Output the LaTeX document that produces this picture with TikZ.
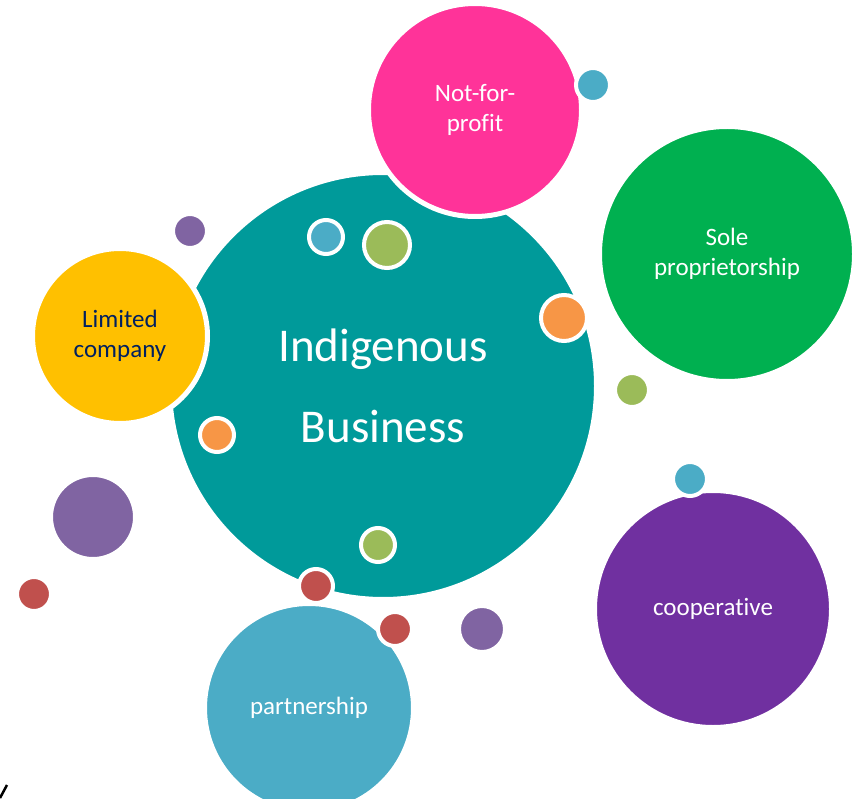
\documentclass[tikz,border=0pt]{standalone}
\usepackage{fontspec}
\setmainfont{Carlito}[Ligatures=NoCommon]
\usetikzlibrary{positioning}

\definecolor{bizteal}{HTML}{009A9A}
\definecolor{bizpink}{HTML}{FF3399}
\definecolor{bizgreen}{HTML}{00B050}
\definecolor{bizyellow}{HTML}{FFC000}
\definecolor{bizpurple}{HTML}{7030A0}
\definecolor{bizblue}{HTML}{4BACC6}
\definecolor{bizlime}{HTML}{9BBB59}
\definecolor{bizorange}{HTML}{F79646}
\definecolor{bizred}{HTML}{C0504D}
\definecolor{bizviolet}{HTML}{8064A2}
\definecolor{biznavy}{HTML}{002060}

\begin{document}
\begin{tikzpicture}[x=1pt, y=-1pt,
    bubble/.style={circle, fill=#1, draw=white, line width=5pt, inner sep=0pt, text=white, align=center, font=\fontsize{25}{30}\selectfont},
    dot/.style={circle, fill=#1, draw=white, line width=4pt, inner sep=0pt}
]
\useasboundingbox (0,0) rectangle (859,799);

% Draw main bubble
\node[bubble=bizteal, minimum size=427pt, font=\fontsize{47}{81}\selectfont] (indigenous) at (383,386) {\raisebox{-8pt}{Indigenous}\\\raisebox{-8pt}{Business}};

% Draw business forms
\node[bubble=bizpink, minimum size=213pt] (notforprofit) at (475,110) {\raisebox{-3pt}{Not-for-}\\\raisebox{-3pt}{profit}};
\node[bubble=bizgreen, minimum size=255pt] (sole) at (727,254) {Sole\\proprietorship};
\node[bubble=bizyellow, minimum size=175pt, text=biznavy] (limited) at (120,336) {Limited\\company};
\node[bubble=bizpurple, minimum size=237pt] (coop) at (713,609) {cooperative};
\node[bubble=bizblue, minimum size=209pt] (partnership) at (309,708) {partnership};

% Draw small dots
\node[dot=bizblue, minimum size=34pt] (bluetop) at (593,85) {};
\node[dot=bizviolet, minimum size=34pt] (violettop) at (190,231) {};
\node[dot=bizblue, minimum size=34pt] (bluein) at (326,237) {};
\node[dot=bizlime, minimum size=46pt] (limein) at (387,245) {};
\node[dot=bizorange, minimum size=46pt] (orangeright) at (564,318) {};
\node[dot=bizlime, minimum size=34pt] (limeright) at (632,390) {};
\node[dot=bizorange, minimum size=34pt] (orangeleft) at (217,435) {};
\node[dot=bizblue, minimum size=34pt] (bluecoop) at (690,479) {};
\node[dot=bizviolet, minimum size=84pt] (violetbig) at (93,517) {};
\node[dot=bizlime, minimum size=34pt] (limelow) at (378,545) {};
\node[dot=bizred, minimum size=34pt] (redlow) at (316,586) {};
\node[dot=bizred, minimum size=34pt] (redleft) at (34,594) {};
\node[dot=bizred, minimum size=34pt] (redpart) at (395,629) {};
\node[dot=bizviolet, minimum size=46pt] (violetlow) at (482,629) {};

% Stray stroke
\draw[line width=2.5pt] (0,798) -- (7,785);

\end{tikzpicture}
\end{document}
